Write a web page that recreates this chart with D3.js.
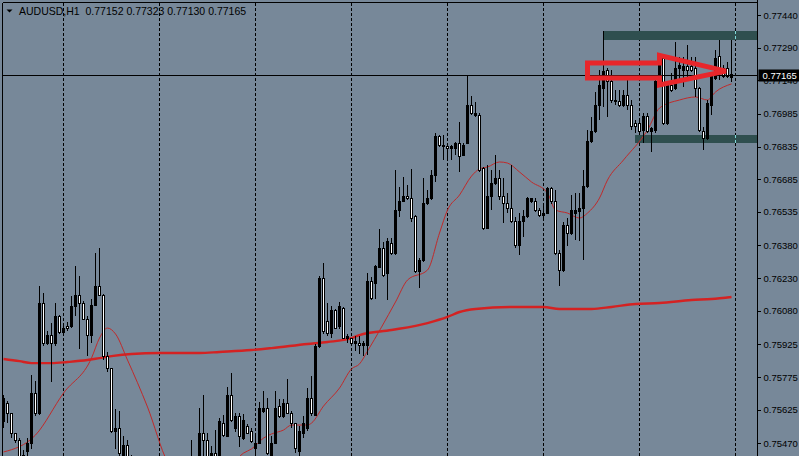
<!DOCTYPE html>
<html>
<head>
<meta charset="utf-8">
<script src="https://cdn.jsdelivr.net/npm/d3@7"></script>
<style>
  html, body { margin: 0; padding: 0; background: #778899; overflow: hidden; }
  text { font-family: "Liberation Sans", Arial, sans-serif; }
</style>
</head>
<body>
<script>
const W = 799, H = 456;
const plot = {left: 2.5, top: 2.5, right: 757.5, bottom: 470};

// hourly candles, oldest first
const opens = [0.75572,0.75655,0.75605,0.75513,0.75485,0.75370,0.75430,0.75471,0.75697,0.75605,
  0.76115,0.75931,0.75968,0.75931,0.76055,0.75978,0.76005,0.76005,0.76101,0.76152,
  0.76111,0.76041,0.75968,0.76106,0.76189,0.76152,0.75867,0.75812,0.75526,0.75536,
  0.75411,0.75462,0.75384,0.75319,0.75273,0.75301,0.75227,0.75191,0.75227,0.75200,
  0.75246,0.75283,0.75255,0.75301,0.75338,0.75310,0.75365,0.75347,0.75384,0.75347,
  0.75517,0.75485,0.75384,0.75425,0.75411,0.75563,0.75503,0.75692,0.75540,0.75595,
  0.75494,0.75549,0.75522,0.75448,0.75471,0.75618,0.75632,0.75393,0.75471,0.75637,
  0.75595,0.75651,0.75609,0.75559,0.75434,0.75517,0.75536,0.75674,0.75600,0.75917,
  0.76230,0.76028,0.75973,0.76083,0.76005,0.76092,0.75950,0.75950,0.75931,0.75931,
  0.75922,0.75922,0.76212,0.76207,0.76280,0.76364,0.76249,0.76391,0.76345,0.76543,
  0.76584,0.76607,0.76598,0.76511,0.76258,0.76313,0.76575,0.76598,0.76704,0.76883,
  0.76842,0.76833,0.76824,0.76824,0.76847,0.76796,0.76851,0.77026,0.76980,0.76980,
  0.76736,0.76460,0.76603,0.76663,0.76690,0.76603,0.76575,0.76552,0.76488,0.76382,
  0.76488,0.76511,0.76580,0.76580,0.76543,0.76520,0.76529,0.76644,0.76580,0.76341,
  0.76267,0.76474,0.76433,0.76525,0.76534,0.76552,0.76649,0.76856,0.76902,0.77026,
  0.77104,0.77187,0.77132,0.77049,0.77040,0.77026,0.77072,0.77026,0.76943,0.76943,
  0.76911,0.76975,0.76902,0.76911,0.77132,0.77242,0.76943,0.77118,0.77104,0.77196,
  0.77187,0.77201,0.77201,0.77196,0.77104,0.76906,0.76870,0.77026,0.77150,0.77247,
  0.77196,0.77192,0.77152];
const highs = [0.75692,0.75664,0.75609,0.75517,0.75494,0.75439,0.75494,0.75784,0.75756,0.76193,
  0.76161,0.75986,0.76023,0.76115,0.76060,0.76009,0.76028,0.76147,0.76285,0.76239,
  0.76124,0.76055,0.76134,0.76345,0.76368,0.76157,0.75890,0.75816,0.75628,0.75618,
  0.75503,0.75485,0.75416,0.75347,0.75324,0.75319,0.75255,0.75246,0.75255,0.75264,
  0.75301,0.75310,0.75319,0.75356,0.75365,0.75384,0.75398,0.75485,0.75402,0.75632,
  0.75692,0.75517,0.75457,0.75531,0.75586,0.75600,0.75729,0.75793,0.75609,0.75609,
  0.75605,0.75559,0.75540,0.75513,0.75660,0.75710,0.75678,0.75503,0.75710,0.75674,
  0.75674,0.75766,0.75618,0.75563,0.75549,0.75595,0.75724,0.75779,0.75927,0.76239,
  0.76299,0.76115,0.76101,0.76087,0.76120,0.76097,0.75973,0.75954,0.75963,0.75963,
  0.75940,0.76253,0.76235,0.76290,0.76456,0.76396,0.76414,0.76414,0.76727,0.76649,
  0.76695,0.76658,0.76732,0.76520,0.76322,0.76690,0.76635,0.76727,0.76897,0.76888,
  0.76888,0.76842,0.76842,0.76856,0.76948,0.76851,0.77164,0.77067,0.77040,0.76989,
  0.76741,0.76750,0.76727,0.76796,0.76727,0.76690,0.76621,0.76750,0.76511,0.76529,
  0.76543,0.76603,0.76598,0.76598,0.76552,0.76575,0.76649,0.76649,0.76635,0.76359,
  0.76488,0.76506,0.76612,0.76621,0.76621,0.76727,0.76911,0.76971,0.77086,0.77187,
  0.77366,0.77196,0.77187,0.77095,0.77095,0.77095,0.77141,0.77049,0.76957,0.76957,
  0.76989,0.76989,0.76925,0.77141,0.77265,0.77256,0.77127,0.77173,0.77316,0.77247,
  0.77247,0.77302,0.77247,0.77247,0.77109,0.76925,0.77049,0.77164,0.77279,0.77325,
  0.77210,0.77224,0.77323];
const lows = [0.75540,0.75563,0.75494,0.75471,0.75347,0.75347,0.75393,0.75444,0.75595,0.75600,
  0.75917,0.75922,0.75752,0.75917,0.75973,0.75963,0.75986,0.76000,0.76055,0.75904,
  0.76037,0.75871,0.75931,0.76101,0.76147,0.75853,0.75798,0.75517,0.75444,0.75411,
  0.75384,0.75347,0.75301,0.75255,0.75246,0.75209,0.75172,0.75163,0.75181,0.75186,
  0.75218,0.75227,0.75237,0.75278,0.75292,0.75292,0.75329,0.75329,0.75319,0.75329,
  0.75393,0.75384,0.75365,0.75384,0.75384,0.75499,0.75499,0.75568,0.75522,0.75453,
  0.75485,0.75513,0.75471,0.75425,0.75466,0.75609,0.75416,0.75384,0.75466,0.75586,
  0.75586,0.75605,0.75540,0.75425,0.75411,0.75494,0.75526,0.75595,0.75595,0.75908,
  0.75973,0.75963,0.75954,0.75996,0.75996,0.75950,0.75931,0.75917,0.75894,0.75881,
  0.75871,0.75876,0.76129,0.76134,0.76276,0.76235,0.76129,0.76336,0.76336,0.76511,
  0.76580,0.76589,0.76488,0.76253,0.76184,0.76304,0.76566,0.76589,0.76672,0.76833,
  0.76773,0.76773,0.76773,0.76796,0.76718,0.76791,0.76847,0.76980,0.76971,0.76718,
  0.76451,0.76455,0.76543,0.76658,0.76589,0.76483,0.76529,0.76483,0.76368,0.76336,
  0.76419,0.76506,0.76575,0.76534,0.76511,0.76497,0.76525,0.76571,0.76336,0.76193,
  0.76258,0.76377,0.76428,0.76405,0.76400,0.76313,0.76644,0.76851,0.76897,0.76957,
  0.77017,0.76971,0.77035,0.77026,0.77017,0.77017,0.77003,0.76911,0.76897,0.76897,
  0.76851,0.76897,0.76810,0.76897,0.77118,0.76934,0.76934,0.77086,0.77095,0.77127,
  0.77109,0.77141,0.77178,0.77063,0.76902,0.76819,0.76865,0.76980,0.77141,0.77141,
  0.77150,0.77150,0.77130];
const closes = [0.75674,0.75605,0.75513,0.75485,0.75370,0.75416,0.75471,0.75697,0.75605,0.76115,
  0.75931,0.75968,0.75931,0.76055,0.75978,0.75996,0.75996,0.76101,0.76152,0.76111,
  0.76041,0.75968,0.76106,0.76189,0.76152,0.75867,0.75812,0.75526,0.75536,0.75425,
  0.75462,0.75384,0.75319,0.75273,0.75301,0.75227,0.75191,0.75227,0.75200,0.75246,
  0.75283,0.75255,0.75301,0.75338,0.75310,0.75365,0.75347,0.75384,0.75347,0.75517,
  0.75485,0.75411,0.75425,0.75411,0.75568,0.75508,0.75692,0.75577,0.75591,0.75503,
  0.75577,0.75517,0.75476,0.75471,0.75628,0.75632,0.75421,0.75471,0.75632,0.75595,
  0.75651,0.75609,0.75559,0.75448,0.75526,0.75559,0.75674,0.75605,0.75917,0.76230,
  0.75986,0.75973,0.76083,0.76000,0.76097,0.75954,0.75963,0.75931,0.75940,0.75922,
  0.75931,0.76212,0.76138,0.76285,0.76364,0.76244,0.76396,0.76345,0.76543,0.76584,
  0.76607,0.76598,0.76506,0.76258,0.76313,0.76575,0.76598,0.76704,0.76883,0.76842,
  0.76833,0.76824,0.76833,0.76847,0.76791,0.76842,0.77026,0.76985,0.76989,0.76727,
  0.76460,0.76603,0.76663,0.76690,0.76603,0.76575,0.76552,0.76488,0.76382,0.76488,
  0.76511,0.76594,0.76594,0.76543,0.76520,0.76529,0.76640,0.76580,0.76341,0.76267,
  0.76474,0.76433,0.76543,0.76543,0.76548,0.76649,0.76856,0.76902,0.77026,0.77118,
  0.77178,0.77132,0.77049,0.77040,0.77026,0.77072,0.77026,0.76925,0.76925,0.76906,
  0.76975,0.76902,0.76916,0.77132,0.77242,0.76943,0.77118,0.77095,0.77196,0.77210,
  0.77201,0.77187,0.77187,0.77104,0.76911,0.76874,0.77035,0.77155,0.77242,0.77196,
  0.77155,0.77155,0.77165];

// moving averages (bar index -> value)
const fastMaBars = [0,8,15,22,24,26,28,31,36,41,45,50,55,60,62,65,67,70,72,76,77,80,84,87,89,91,
  98,101,106,109,111,114,117,119,121,124,126,129,132,136,138,141,144,146,149,151,155,161,164,169,173,176,178,182];
const fastMaVals = [0.75430,0.75508,0.75701,0.75862,0.75954,0.76000,0.75973,0.75853,0.75637,0.75384,
  0.75301,0.75255,0.75324,0.75425,0.75444,0.75494,0.75513,0.75531,0.75554,0.75554,0.75563,0.75641,
  0.75724,0.75812,0.75835,0.75894,0.76120,0.76221,0.76267,0.76437,0.76543,0.76612,0.76699,0.76732,
  0.76741,0.76764,0.76759,0.76718,0.76672,0.76621,0.76543,0.76529,0.76506,0.76529,0.76598,0.76681,
  0.76773,0.76911,0.77012,0.77049,0.77063,0.77049,0.77086,0.77123];
const slowMaBars = [0,4,7,12,16,21,24,27,32,39,49,54,62,67,76,81,87,89,97,106,111,114,118,127,135,
  139,147,152,158,164,172,177,182];
const slowMaVals = [0.75858,0.75848,0.75839,0.75839,0.75844,0.75853,0.75862,0.75871,0.75881,0.75885,
  0.75885,0.75890,0.75899,0.75908,0.75927,0.75936,0.75954,0.75968,0.75991,0.76023,0.76051,0.76074,
  0.76088,0.76097,0.76097,0.76088,0.76088,0.76097,0.76111,0.76115,0.76129,0.76134,0.76143];

const yTicks = [0.77440,0.77290,0.77140,0.76985,0.76835,0.76685,0.76535,0.76380,0.76230,0.76080,
  0.75925,0.75775,0.75625,0.75470];
const gridBars = [15,39,63,87,111,135,159,183];

// rectangles (top / bottom of range) and the arrow object
const bandStart = [150, 158];
const bandHigh = [0.77366, 0.76888];
const bandLow = [0.77325, 0.76850];
const arrowBars = [146, 164, 164, 180.6, 164, 164, 146];
const arrowVals = [0.77219, 0.77219, 0.77254, 0.77182, 0.77118, 0.77150, 0.77150];

const symbol = "AUDUSD,H1";
const last = opens.length - 1;

const xScale = d3.scaleLinear().domain([0, last]).range([3.5, 731.5]);
const yScale = d3.scaleLinear().domain([0.75470, 0.77440]).range([443.3, 15]);

var svg = d3.select("body")
    .append("svg")
    .attr("width", W)
    .attr("height", H);

svg.append("rect")
    .attr("width", W).attr("height", H)
    .attr("fill", "#778899");

svg.append("clipPath").attr("id", "plotclip")
    .append("rect")
    .attr("x", plot.left).attr("y", plot.top)
    .attr("width", plot.right - plot.left).attr("height", plot.bottom - plot.top);

const chart = svg.append("g").attr("clip-path", "url(#plotclip)");

// day separators
chart.selectAll(".grid")
    .data(gridBars)
    .enter().append("line")
    .attr("x1", d => Math.round(xScale(d)) - 0.5)
    .attr("x2", d => Math.round(xScale(d)) - 0.5)
    .attr("y1", plot.top)
    .attr("y2", plot.bottom)
    .attr("stroke", "#000")
    .attr("stroke-dasharray", "3,2")
    .attr("shape-rendering", "crispEdges");

// range rectangles
chart.selectAll(".band")
    .data(bandStart)
    .enter().append("rect")
    .attr("x", d => xScale(d) - 0.5)
    .attr("y", (d, i) => yScale(bandHigh[i]))
    .attr("width", d => plot.right - xScale(d) + 0.5)
    .attr("height", (d, i) => yScale(bandLow[i]) - yScale(bandHigh[i]))
    .attr("fill", "#2f4f4f")
    .attr("shape-rendering", "crispEdges");

// grid shows through the rectangles in a light colour
bandStart.forEach(function(b, i) {
    chart.append("line")
        .attr("x1", Math.round(xScale(183)) - 0.5)
        .attr("x2", Math.round(xScale(183)) - 0.5)
        .attr("y1", yScale(bandHigh[i]))
        .attr("y2", yScale(bandLow[i]))
        .attr("stroke", "#7fd8d8")
        .attr("stroke-dasharray", "3,2")
        .attr("shape-rendering", "crispEdges");
});

const maLine = d3.line()
    .x(d => xScale(d[0]))
    .y(d => yScale(d[1]))
    .curve(d3.curveMonotoneX);

chart.append("path")
    .datum(slowMaBars.map((b, i) => [b, slowMaVals[i]]))
    .attr("d", maLine)
    .attr("fill", "none")
    .attr("stroke", "#d42222")
    .attr("stroke-width", 2.4);

chart.append("path")
    .datum(fastMaBars.map((b, i) => [b, fastMaVals[i]]))
    .attr("d", maLine)
    .attr("fill", "none")
    .attr("stroke", "#c02a2a")
    .attr("stroke-width", 1);

// candles
const bars = d3.range(opens.length);

chart.selectAll(".wick")
    .data(bars)
    .enter().append("line")
    .attr("x1", d => xScale(d))
    .attr("x2", d => xScale(d))
    .attr("y1", d => yScale(highs[d]))
    .attr("y2", d => yScale(lows[d]))
    .attr("stroke", "#000")
    .attr("shape-rendering", "crispEdges");

chart.selectAll(".body")
    .data(bars)
    .enter().append("rect")
    .attr("x", d => xScale(d) - 1)
    .attr("width", 2)
    .attr("y", d => yScale(Math.max(opens[d], closes[d])))
    .attr("height", d => Math.abs(yScale(opens[d]) - yScale(closes[d])))
    .attr("fill", d => closes[d] > opens[d] ? "#000" : "#fff")
    .attr("stroke", "#000")
    .attr("stroke-width", 1)
    .attr("shape-rendering", "crispEdges");

// bid line
const bidY = Math.round(yScale(closes[last])) + 0.5;
chart.append("line")
    .attr("x1", plot.left).attr("x2", plot.right)
    .attr("y1", bidY).attr("y2", bidY)
    .attr("stroke", "#000")
    .attr("shape-rendering", "crispEdges");

// arrow object
chart.append("path")
    .datum(arrowBars.map((b, i) => [b, arrowVals[i]]))
    .attr("d", d3.line().x(d => xScale(d[0])).y(d => yScale(d[1])).curve(d3.curveLinearClosed))
    .attr("fill", "none")
    .attr("stroke", "#e8262b")
    .attr("stroke-width", 5)
    .attr("stroke-linejoin", "miter");

// frame
svg.append("line")
    .attr("x1", plot.left).attr("x2", plot.right)
    .attr("y1", plot.top).attr("y2", plot.top)
    .attr("stroke", "#000").attr("shape-rendering", "crispEdges");
svg.append("line")
    .attr("x1", plot.left).attr("x2", plot.left)
    .attr("y1", plot.top).attr("y2", H)
    .attr("stroke", "#000").attr("shape-rendering", "crispEdges");

// price axis on the right
const yAxis = d3.axisRight(yScale)
    .tickValues(yTicks)
    .tickSize(3)
    .tickPadding(3)
    .tickFormat(d => d.toFixed(5));

const axisG = svg.append("g")
    .attr("transform", `translate(${plot.right},0)`)
    .call(yAxis);
axisG.select(".domain").remove();
axisG.selectAll("line").attr("stroke", "#000").attr("shape-rendering", "crispEdges");
axisG.selectAll("text")
    .attr("fill", "#000")
    .style("font-size", "9.5px")
    .style("font-family", "'Liberation Sans', Arial, sans-serif");

svg.append("line")
    .attr("x1", plot.right).attr("x2", plot.right)
    .attr("y1", 0).attr("y2", H)
    .attr("stroke", "#000").attr("shape-rendering", "crispEdges");

// current price tag (sits over the 0.77140 label, as in the terminal)
svg.append("rect")
    .attr("x", plot.right + 1)
    .attr("y", bidY - 6)
    .attr("width", W - plot.right)
    .attr("height", 12)
    .attr("fill", "#000");
svg.append("text")
    .attr("x", plot.right + 5)
    .attr("y", bidY + 3.5)
    .attr("fill", "#fff")
    .style("font-size", "9.5px")
    .text(closes[last].toFixed(5));

// header
svg.append("path")
    .attr("d", "M6.5,9.5 L12.5,9.5 L9.5,12.5 Z")
    .attr("fill", "#000");
const header = svg.append("text")
    .attr("x", 19)
    .attr("y", 15)
    .attr("fill", "#000")
    .attr("xml:space", "preserve")
    .style("font-size", "10.5px")
    .style("white-space", "pre")
    .text(symbol + "  " + [opens[last], highs[last], lows[last], closes[last]].map(v => v.toFixed(5)).join(" "));
</script>
</body>
</html>
